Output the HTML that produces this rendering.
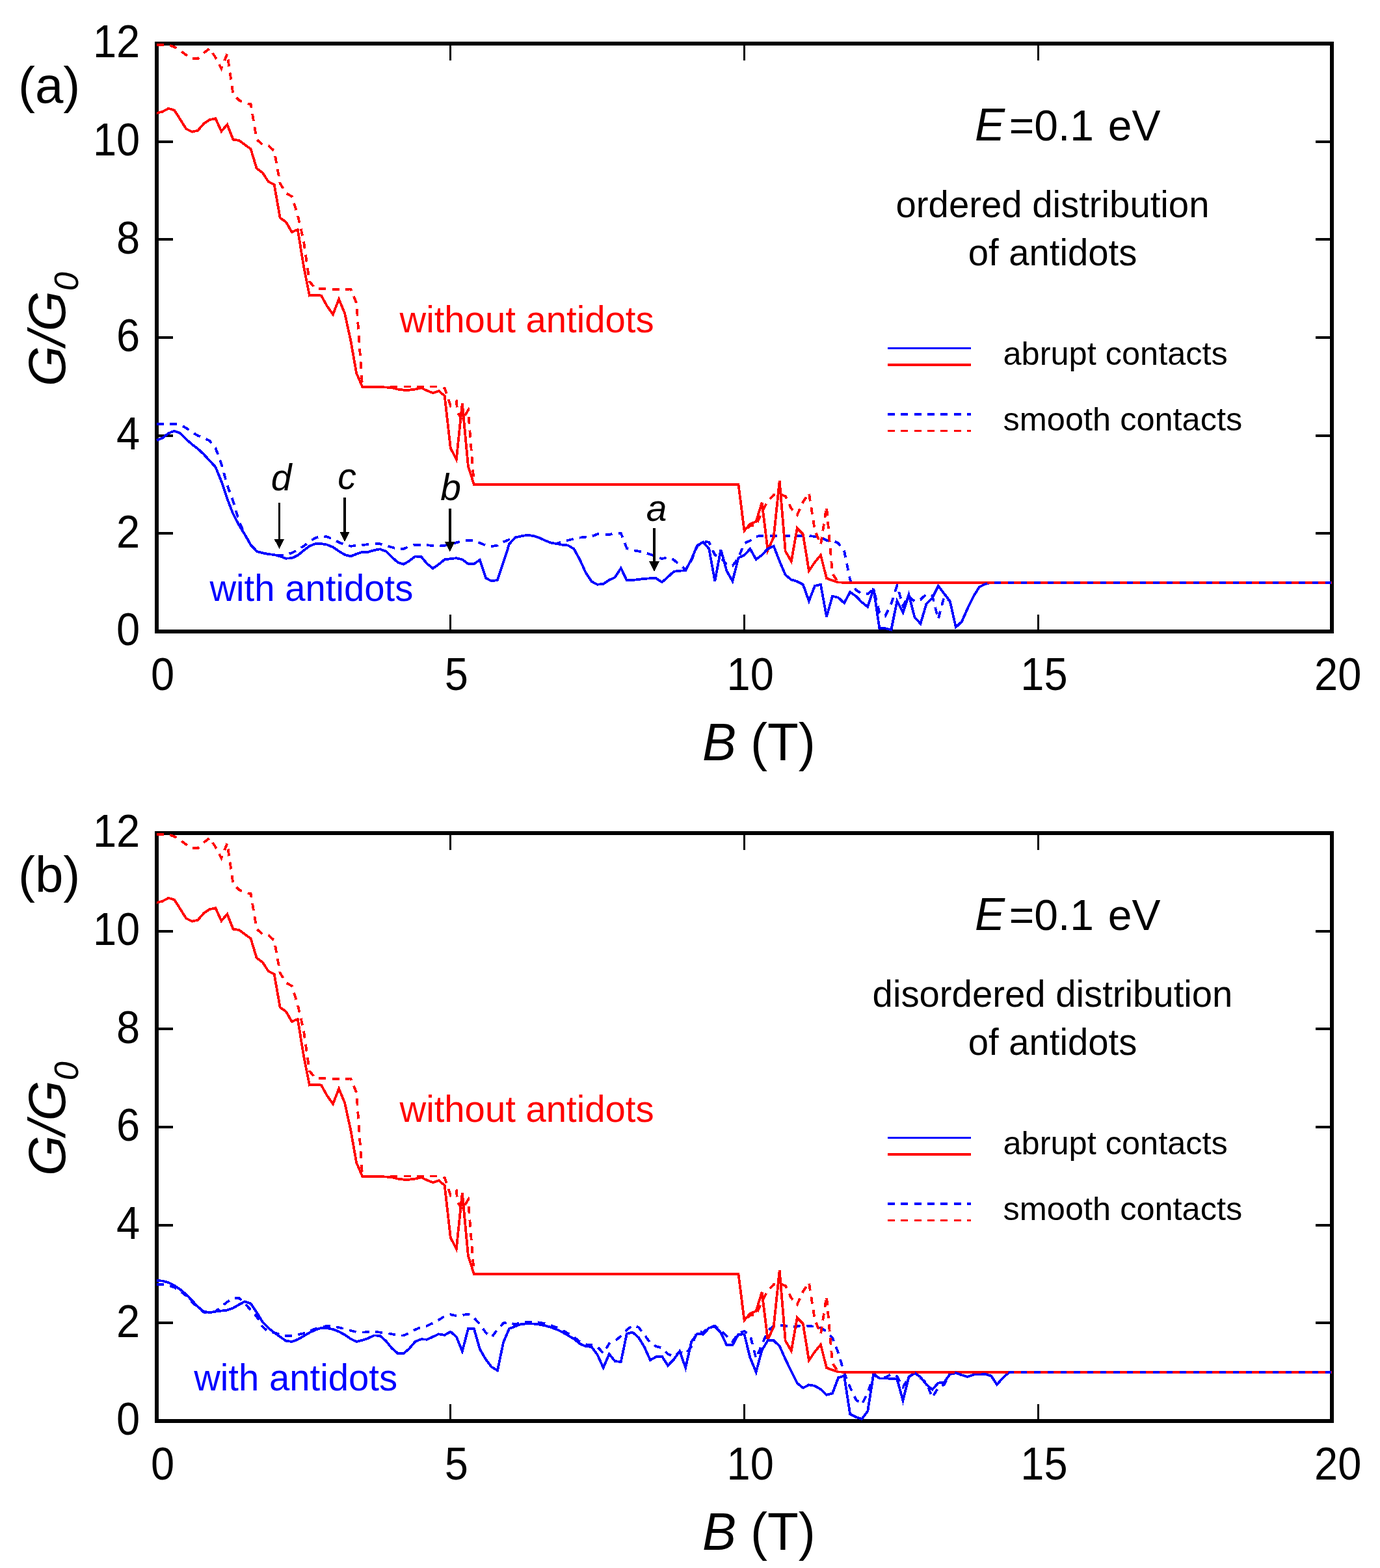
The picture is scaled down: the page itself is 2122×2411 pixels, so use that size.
<!DOCTYPE html><html><head><meta charset="utf-8"><title>G/G0 vs B</title><style>html,body{margin:0;padding:0;background:#fff}svg{display:block}</style></head><body>
<svg width="2122" height="2411" viewBox="0 0 2122 2411" font-family="Liberation Sans, Arial, Helvetica, sans-serif">
<style>path,rect{shape-rendering:crispEdges}</style>
<rect width="2122" height="2411" fill="#fff"/>
<g><path d="M241,820.3H266M2023,820.3H2048" stroke="#000" stroke-width="3.8"/>
<path d="M241,669.7H266M2023,669.7H2048" stroke="#000" stroke-width="3.8"/>
<path d="M241,519.0H266M2023,519.0H2048" stroke="#000" stroke-width="3.8"/>
<path d="M241,368.3H266M2023,368.3H2048" stroke="#000" stroke-width="3.8"/>
<path d="M241,217.7H266M2023,217.7H2048" stroke="#000" stroke-width="3.8"/>
<path d="M692.8,971V945M692.8,67V93" stroke="#000" stroke-width="3"/>
<path d="M1144.5,971V945M1144.5,67V93" stroke="#000" stroke-width="3"/>
<path d="M1596.2,971V945M1596.2,67V93" stroke="#000" stroke-width="3"/>
<text transform="translate(215.20,992.20) scale(0.97,1.054)" font-size="67" text-anchor="end">0</text>
<text transform="translate(215.20,841.53) scale(0.97,1.054)" font-size="67" text-anchor="end">2</text>
<text transform="translate(215.20,690.87) scale(0.97,1.054)" font-size="67" text-anchor="end">4</text>
<text transform="translate(215.20,540.20) scale(0.97,1.054)" font-size="67" text-anchor="end">6</text>
<text transform="translate(215.20,389.53) scale(0.97,1.054)" font-size="67" text-anchor="end">8</text>
<text transform="translate(215.20,238.87) scale(0.97,1.054)" font-size="67" text-anchor="end">10</text>
<text transform="translate(215.20,88.20) scale(0.97,1.054)" font-size="67" text-anchor="end">12</text>
<text transform="translate(250.20,1060.50) scale(0.97,1.054)" font-size="67" text-anchor="middle">0</text>
<text transform="translate(701.95,1060.50) scale(0.97,1.054)" font-size="67" text-anchor="middle">5</text>
<text transform="translate(1153.70,1060.50) scale(0.97,1.054)" font-size="67" text-anchor="middle">10</text>
<text transform="translate(1605.45,1060.50) scale(0.97,1.054)" font-size="67" text-anchor="middle">15</text>
<text transform="translate(2057.20,1060.50) scale(0.97,1.054)" font-size="67" text-anchor="middle">20</text>
<text transform="translate(1080.00,1169.00) scale(0.99,1.03)" font-size="79"><tspan font-style="italic">B</tspan> (T)</text>
<text transform="translate(100,594) rotate(-90) scale(1.0,1.0)" font-size="80" font-style="italic">G/G<tspan font-size="52" dy="19.5">0</tspan></text>
<rect x="241" y="67" width="1807" height="904" fill="none" stroke="#000" stroke-width="6"/>
<path d="M241.0,652.0 L250.0,652.0 L259.1,651.8 L268.1,651.8 L277.1,653.2 L286.2,658.1 L295.2,664.3 L304.2,669.8 L313.3,673.4 L322.3,677.7 L331.4,688.7 L340.4,713.2 L349.4,746.2 L358.5,770.7 L367.5,801.3 L376.5,822.0 L385.6,836.7 L394.6,847.8 L403.6,850.2 L412.7,852.0 L421.7,853.0 L430.7,854.0 L439.8,852.9 L448.8,850.2 L457.8,845.5 L466.9,839.7 L475.9,832.8 L484.9,827.0 L494.0,824.4 L503.0,825.4 L512.0,829.1 L521.1,833.9 L530.1,837.6 L539.2,839.7 L548.2,839.1 L557.2,838.1 L566.3,837.0 L575.3,836.3 L584.3,836.3 L593.4,839.1 L602.4,841.5 L611.4,843.9 L620.5,843.9 L629.5,840.2 L638.5,837.6 L647.6,837.6 L656.6,838.1 L665.6,839.1 L674.7,839.5 L683.7,839.1 L692.8,836.0 L701.8,834.4 L710.8,831.8 L719.9,830.7 L728.9,831.5 L737.9,834.9 L747.0,838.6 L756.0,840.0 L765.0,838.6 L774.1,833.3 L783.1,829.6 L792.1,826.5 L801.2,824.4 L810.2,822.8 L819.2,823.8 L828.3,826.5 L837.3,830.7 L846.3,834.4 L855.4,836.0 L864.4,833.3 L873.5,830.7 L882.5,828.6 L891.5,826.7 L900.6,825.6 L909.6,824.9 L918.6,821.2 L927.7,821.7 L936.7,822.2 L945.7,819.6 L954.8,819.9 L963.8,843.0 L972.8,846.0 L981.9,847.6 L990.9,849.7 L999.9,852.4 L1009.0,855.5 L1018.0,859.2 L1027.0,856.8 L1036.1,860.8 L1045.1,868.8 L1054.2,875.6 L1063.2,862.0 L1072.2,840.0 L1081.3,831.8 L1090.3,833.9 L1099.3,853.4 L1108.4,858.0 L1117.4,868.2 L1126.4,870.0 L1135.5,857.7 L1144.5,835.5 L1153.5,831.2 L1162.6,824.9 L1171.6,823.8 L1180.6,823.6 L1189.7,823.6 L1198.7,823.6 L1207.7,823.6 L1216.8,823.6 L1225.8,823.6 L1234.8,823.8 L1243.9,824.0 L1252.9,824.9 L1262.0,826.4 L1271.0,830.7 L1280.0,830.7 L1289.1,835.4 L1298.1,847.0 L1307.1,891.4 L1316.2,907.2 L1325.2,913.0 L1334.2,913.4 L1343.3,906.0 L1352.3,942.0 L1361.3,947.2 L1370.4,928.2 L1379.4,900.2 L1388.4,931.4 L1397.5,916.6 L1406.5,925.0 L1415.5,921.9 L1424.6,913.4 L1433.6,916.0 L1442.7,952.0 L1451.7,918.0 L1460.7,924.2 L1469.8,964.4 L1478.8,956.0 L1487.8,935.7 L1496.9,917.0 L1505.9,902.5 L1514.9,898.0 L1524.0,895.7 L2048.0,895.7" fill="none" stroke="#0000ff" stroke-width="3.8" stroke-linejoin="miter" stroke-miterlimit="4" stroke-dasharray="11,9.35"/>
<path d="M241.0,173.9 L250.0,171.7 L259.1,166.8 L268.1,169.4 L277.1,183.5 L286.2,198.1 L295.2,202.7 L304.2,200.7 L313.3,190.2 L322.3,184.2 L331.4,182.2 L340.4,202.0 L349.4,191.5 L358.5,214.6 L367.5,215.9 L376.5,222.5 L385.6,229.1 L394.6,258.9 L403.6,265.5 L412.7,279.3 L421.7,284.0 L430.7,335.0 L439.8,341.4 L448.8,356.8 L457.8,353.1 L466.9,409.0 L475.9,454.5 L484.9,453.6 L494.0,454.5 L503.0,470.8 L512.0,483.4 L521.1,460.0 L530.1,481.6 L539.2,523.3 L548.2,574.0 L557.2,594.7 L566.3,595.0 L575.3,595.0 L584.3,595.3 L593.4,595.5 L602.4,596.0 L611.4,598.5 L620.5,599.6 L629.5,599.6 L638.5,598.5 L647.6,596.4 L656.6,600.6 L665.6,604.3 L674.7,601.2 L683.7,608.6 L692.8,689.0 L701.8,706.4 L710.8,620.0 L719.9,717.0 L728.9,745.0 L737.9,745.0 L747.0,745.0 L756.0,745.0 L765.0,745.0 L774.1,745.0 L783.1,745.0 L792.1,745.0 L801.2,745.0 L810.2,745.0 L819.2,745.0 L828.3,745.0 L837.3,745.0 L846.3,745.0 L855.4,745.0 L864.4,745.0 L873.5,745.0 L882.5,745.0 L891.5,745.0 L900.6,745.0 L909.6,745.0 L918.6,745.0 L927.7,745.0 L936.7,745.0 L945.7,745.0 L954.8,745.0 L963.8,745.0 L972.8,745.0 L981.9,745.0 L990.9,745.0 L999.9,745.0 L1009.0,745.0 L1018.0,745.0 L1027.0,745.0 L1036.1,745.0 L1045.1,745.0 L1054.2,745.0 L1063.2,745.0 L1072.2,745.0 L1081.3,745.0 L1090.3,745.0 L1099.3,745.0 L1108.4,745.0 L1117.4,745.0 L1126.4,745.0 L1135.5,745.0 L1144.5,816.0 L1153.5,805.7 L1162.6,802.0 L1171.6,772.9 L1180.6,846.0 L1189.7,826.0 L1198.7,739.0 L1207.7,847.5 L1216.8,863.2 L1225.8,812.0 L1234.8,821.5 L1243.9,877.8 L1252.9,864.5 L1262.0,853.5 L1271.0,889.2 L1280.0,892.6 L1289.1,895.4 L1298.1,895.7 L2048.0,895.7" fill="none" stroke="#ff0000" stroke-width="3.8" stroke-linejoin="miter" stroke-miterlimit="4"/>
<path d="M241.0,677.1 L250.0,673.4 L259.1,666.1 L268.1,662.8 L277.1,666.1 L286.2,675.3 L295.2,683.2 L304.2,690.0 L313.3,698.5 L322.3,708.3 L331.4,718.1 L340.4,740.1 L349.4,767.0 L358.5,790.3 L367.5,807.4 L376.5,822.0 L385.6,838.0 L394.6,847.8 L403.6,850.2 L412.7,852.0 L421.7,853.0 L430.7,855.5 L439.8,858.7 L448.8,858.2 L457.8,853.9 L466.9,846.5 L475.9,839.7 L484.9,836.0 L494.0,836.0 L503.0,837.6 L512.0,841.3 L521.1,847.6 L530.1,852.9 L539.2,855.5 L548.2,851.8 L557.2,848.7 L566.3,848.7 L575.3,846.0 L584.3,844.4 L593.4,847.6 L602.4,856.5 L611.4,864.5 L620.5,867.7 L629.5,862.4 L638.5,855.5 L647.6,856.0 L656.6,866.6 L665.6,874.0 L674.7,867.7 L683.7,860.3 L692.8,859.2 L701.8,858.2 L710.8,860.3 L719.9,867.1 L728.9,867.1 L737.9,860.8 L747.0,888.8 L756.0,893.5 L765.0,892.0 L774.1,864.5 L783.1,836.5 L792.1,826.5 L801.2,824.4 L810.2,822.8 L819.2,823.8 L828.3,826.5 L837.3,830.7 L846.3,834.4 L855.4,836.0 L864.4,837.6 L873.5,838.6 L882.5,843.9 L891.5,860.3 L900.6,880.3 L909.6,894.1 L918.6,898.8 L927.7,897.8 L936.7,892.0 L945.7,887.7 L954.8,873.5 L963.8,892.5 L972.8,892.0 L981.9,890.9 L990.9,889.9 L999.9,889.3 L1009.0,889.3 L1018.0,895.2 L1027.0,887.2 L1036.1,878.8 L1045.1,877.7 L1054.2,877.2 L1063.2,859.8 L1072.2,838.7 L1081.3,833.4 L1090.3,843.9 L1099.3,893.6 L1108.4,845.0 L1117.4,877.7 L1126.4,893.6 L1135.5,857.7 L1144.5,853.7 L1153.5,843.9 L1162.6,860.2 L1171.6,853.4 L1180.6,843.9 L1189.7,839.6 L1198.7,862.9 L1207.7,884.0 L1216.8,891.4 L1225.8,894.0 L1234.8,898.8 L1243.9,924.1 L1252.9,900.9 L1262.0,898.8 L1271.0,948.4 L1280.0,916.7 L1289.1,918.9 L1298.1,927.3 L1307.1,910.4 L1316.2,916.7 L1325.2,926.0 L1334.2,933.0 L1343.3,905.0 L1352.3,966.2 L1361.3,966.2 L1370.4,968.4 L1379.4,924.0 L1388.4,942.0 L1397.5,914.5 L1406.5,949.4 L1415.5,958.9 L1424.6,928.1 L1433.6,919.7 L1442.7,900.9 L1451.7,912.7 L1460.7,924.2 L1469.8,964.4 L1478.8,956.0 L1487.8,935.7 L1496.9,917.0 L1505.9,902.5 L1514.9,898.0 L1524.0,895.7 L2048.0,895.7" fill="none" stroke="#0000ff" stroke-width="3.8" stroke-linejoin="miter" stroke-miterlimit="4"/>
<path d="M241.0,69.0 L250.0,69.0 L259.1,69.0 L268.1,72.2 L277.1,77.6 L286.2,84.4 L295.2,90.1 L304.2,90.4 L313.3,81.5 L322.3,74.5 L331.4,88.4 L340.4,105.6 L349.4,82.7 L358.5,145.5 L367.5,154.0 L376.5,159.0 L385.6,160.0 L394.6,214.0 L403.6,222.8 L412.7,224.0 L421.7,232.0 L430.7,282.0 L439.8,297.0 L448.8,302.0 L457.8,331.0 L466.9,370.0 L475.9,433.0 L484.9,443.6 L494.0,444.0 L503.0,444.5 L512.0,445.0 L521.1,445.4 L530.1,445.0 L539.2,444.5 L548.2,466.0 L557.2,594.5 L566.3,594.5 L575.3,594.5 L584.3,594.5 L593.4,594.5 L602.4,594.5 L611.4,594.5 L620.5,594.5 L629.5,594.5 L638.5,594.5 L647.6,594.5 L656.6,594.5 L665.6,594.5 L674.7,594.5 L683.7,597.0 L692.8,624.0 L701.8,617.0 L703.5,634.0 L710.8,646.0 L719.9,630.7 L728.9,745.0 L737.9,745.0 L747.0,745.0 L756.0,745.0 L765.0,745.0 L774.1,745.0 L783.1,745.0 L792.1,745.0 L801.2,745.0 L810.2,745.0 L819.2,745.0 L828.3,745.0 L837.3,745.0 L846.3,745.0 L855.4,745.0 L864.4,745.0 L873.5,745.0 L882.5,745.0 L891.5,745.0 L900.6,745.0 L909.6,745.0 L918.6,745.0 L927.7,745.0 L936.7,745.0 L945.7,745.0 L954.8,745.0 L963.8,745.0 L972.8,745.0 L981.9,745.0 L990.9,745.0 L999.9,745.0 L1009.0,745.0 L1018.0,745.0 L1027.0,745.0 L1036.1,745.0 L1045.1,745.0 L1054.2,745.0 L1063.2,745.0 L1072.2,745.0 L1081.3,745.0 L1090.3,745.0 L1099.3,745.0 L1108.4,745.0 L1117.4,745.0 L1126.4,745.0 L1135.5,745.0 L1144.5,817.0 L1153.5,808.0 L1162.6,808.0 L1171.6,787.0 L1180.6,770.5 L1189.7,761.0 L1198.7,759.7 L1207.7,763.0 L1216.8,782.0 L1225.8,791.8 L1234.8,772.0 L1243.9,758.0 L1252.9,815.0 L1262.0,837.5 L1271.0,779.0 L1280.0,882.0 L1289.1,895.5 L1298.1,895.7 L2048.0,895.7" fill="none" stroke="#ff0000" stroke-width="3.8" stroke-linejoin="miter" stroke-miterlimit="4" stroke-dasharray="11,9.35"/>
<path d="M1365,535.5H1493" stroke="#0000ff" stroke-width="3.8"/>
<path d="M1365,560.8H1493" stroke="#ff0000" stroke-width="3.8"/>
<path d="M1365,637H1493" stroke="#0000ff" stroke-width="3.8" stroke-dasharray="11,9.35"/>
<path d="M1365,662.5H1493" stroke="#ff0000" stroke-width="3.8" stroke-dasharray="11,9.35"/>
<text transform="translate(1542.50,561.00)" font-size="50.5">abrupt contacts</text>
<text transform="translate(1542.50,662.00)" font-size="50.5">smooth contacts</text>
<text transform="translate(28.00,158.00)" font-size="78">(a)</text>
<text transform="translate(1499.00,216.00) scale(1,1.03)" font-size="69" font-style="italic">E</text>
<text transform="translate(1551.70,216.00) scale(1,1.02)" font-size="66">=0.1<tspan dx="3.5"> eV</tspan></text>
<text transform="translate(1618.50,333.60) scale(1,1.025)" font-size="56.3" text-anchor="middle">ordered distribution</text>
<text transform="translate(1618.50,408.30) scale(1,1.025)" font-size="56.3" text-anchor="middle">of antidots</text>
<text transform="translate(614.50,511.20) scale(1,1.025)" font-size="56.3" fill="#ff0000">without antidots</text>
<text transform="translate(322.40,924.40) scale(1,1.025)" font-size="56.3" fill="#0000ff">with antidots</text>
<path d="M429.5,772.9V829.9" stroke="#000" stroke-width="3.6"/><path d="M421.7,828.9L437.3,828.9L429.5,844.4Z" fill="#000"/>
<text transform="translate(416.80,753.90)" font-size="57" font-style="italic">d</text>
<path d="M530,765V818.5" stroke="#000" stroke-width="3.6"/><path d="M522.2,817.5L537.8,817.5L530,833Z" fill="#000"/>
<text transform="translate(519.30,752.00)" font-size="57" font-style="italic">c</text>
<path d="M691.8,781.8V834.1" stroke="#000" stroke-width="3.6"/><path d="M684.0,833.1L699.5999999999999,833.1L691.8,848.6Z" fill="#000"/>
<text transform="translate(677.20,769.40)" font-size="57" font-style="italic">b</text>
<path d="M1006,812V864.2" stroke="#000" stroke-width="3.6"/><path d="M998.2,863.2L1013.8,863.2L1006,878.7Z" fill="#000"/>
<text transform="translate(993.80,800.50)" font-size="57" font-style="italic">a</text>
</g>
<g transform="translate(0,1214)"><path d="M241,820.3H266M2023,820.3H2048" stroke="#000" stroke-width="3.8"/>
<path d="M241,669.7H266M2023,669.7H2048" stroke="#000" stroke-width="3.8"/>
<path d="M241,519.0H266M2023,519.0H2048" stroke="#000" stroke-width="3.8"/>
<path d="M241,368.3H266M2023,368.3H2048" stroke="#000" stroke-width="3.8"/>
<path d="M241,217.7H266M2023,217.7H2048" stroke="#000" stroke-width="3.8"/>
<path d="M692.8,971V945M692.8,67V93" stroke="#000" stroke-width="3"/>
<path d="M1144.5,971V945M1144.5,67V93" stroke="#000" stroke-width="3"/>
<path d="M1596.2,971V945M1596.2,67V93" stroke="#000" stroke-width="3"/>
<text transform="translate(215.20,992.20) scale(0.97,1.054)" font-size="67" text-anchor="end">0</text>
<text transform="translate(215.20,841.53) scale(0.97,1.054)" font-size="67" text-anchor="end">2</text>
<text transform="translate(215.20,690.87) scale(0.97,1.054)" font-size="67" text-anchor="end">4</text>
<text transform="translate(215.20,540.20) scale(0.97,1.054)" font-size="67" text-anchor="end">6</text>
<text transform="translate(215.20,389.53) scale(0.97,1.054)" font-size="67" text-anchor="end">8</text>
<text transform="translate(215.20,238.87) scale(0.97,1.054)" font-size="67" text-anchor="end">10</text>
<text transform="translate(215.20,88.20) scale(0.97,1.054)" font-size="67" text-anchor="end">12</text>
<text transform="translate(250.20,1060.50) scale(0.97,1.054)" font-size="67" text-anchor="middle">0</text>
<text transform="translate(701.95,1060.50) scale(0.97,1.054)" font-size="67" text-anchor="middle">5</text>
<text transform="translate(1153.70,1060.50) scale(0.97,1.054)" font-size="67" text-anchor="middle">10</text>
<text transform="translate(1605.45,1060.50) scale(0.97,1.054)" font-size="67" text-anchor="middle">15</text>
<text transform="translate(2057.20,1060.50) scale(0.97,1.054)" font-size="67" text-anchor="middle">20</text>
<text transform="translate(1080.00,1169.00) scale(0.99,1.03)" font-size="79"><tspan font-style="italic">B</tspan> (T)</text>
<text transform="translate(100,594) rotate(-90) scale(1.0,1.0)" font-size="80" font-style="italic">G/G<tspan font-size="52" dy="19.5">0</tspan></text>
<rect x="241" y="67" width="1807" height="904" fill="none" stroke="#000" stroke-width="6"/>
<path d="M241.0,761.4 L250.0,760.9 L259.1,762.5 L268.1,765.6 L277.1,771.0 L286.2,778.3 L295.2,787.8 L304.2,796.3 L313.3,803.7 L322.3,805.2 L331.4,802.6 L340.4,795.2 L349.4,787.8 L358.5,782.5 L367.5,782.0 L376.5,790.0 L385.6,800.5 L394.6,810.0 L403.6,825.8 L412.7,833.8 L421.7,835.0 L430.7,838.3 L439.8,839.9 L448.8,840.4 L457.8,838.3 L466.9,836.2 L475.9,832.5 L484.9,829.3 L494.0,826.2 L503.0,825.1 L512.0,825.6 L521.1,827.2 L530.1,829.3 L539.2,832.0 L548.2,834.1 L557.2,834.6 L566.3,834.1 L575.3,833.9 L584.3,834.6 L593.4,835.7 L602.4,837.2 L611.4,839.4 L620.5,839.4 L629.5,835.7 L638.5,830.4 L647.6,826.7 L656.6,824.6 L665.6,820.4 L674.7,815.6 L683.7,809.8 L692.8,807.2 L701.8,809.3 L710.8,808.2 L719.9,806.6 L728.9,812.4 L737.9,822.0 L747.0,835.1 L756.0,842.0 L765.0,830.4 L774.1,820.4 L783.1,819.3 L792.1,822.6 L801.2,818.9 L810.2,818.4 L819.2,818.4 L828.3,819.5 L837.3,821.1 L846.3,823.7 L855.4,826.9 L864.4,831.1 L873.5,836.4 L882.5,841.7 L891.5,849.0 L900.6,853.3 L909.6,854.2 L918.6,856.8 L927.7,866.8 L936.7,852.0 L945.7,847.8 L954.8,840.4 L963.8,830.9 L972.8,824.1 L981.9,826.7 L990.9,838.3 L999.9,851.0 L1009.0,856.3 L1018.0,858.4 L1027.0,867.9 L1036.1,872.1 L1045.1,864.7 L1054.2,867.9 L1063.2,856.3 L1072.2,833.0 L1081.3,835.0 L1090.3,826.7 L1099.3,824.6 L1108.4,832.0 L1117.4,840.4 L1126.4,848.9 L1135.5,836.2 L1144.5,833.0 L1153.5,838.8 L1162.6,874.7 L1171.6,853.6 L1180.6,832.5 L1189.7,824.6 L1198.7,823.5 L1207.7,824.6 L1216.8,826.7 L1225.8,825.6 L1234.8,823.5 L1243.9,825.1 L1252.9,825.6 L1262.0,827.7 L1271.0,833.0 L1280.0,843.0 L1289.1,866.3 L1298.1,896.9 L1307.1,919.1 L1316.2,938.1 L1325.2,945.5 L1334.2,927.8 L1343.3,901.0 L1352.3,903.5 L1361.3,904.2 L1370.4,899.0 L1379.4,902.3 L1388.4,918.9 L1397.5,903.5 L1406.5,897.1 L1415.5,905.0 L1424.6,912.5 L1433.6,935.0 L1442.7,919.5 L1451.7,915.0 L1460.7,898.4 L1469.8,897.1 L1478.8,900.3 L1487.8,902.9 L1496.9,899.7 L1505.9,899.0 L1514.9,899.0 L1524.0,901.6 L1533.0,915.0 L1542.0,904.8 L1551.1,896.5 L1560.1,895.7 L2048.0,895.7" fill="none" stroke="#0000ff" stroke-width="3.8" stroke-linejoin="miter" stroke-miterlimit="4" stroke-dasharray="11,9.35"/>
<path d="M241.0,173.9 L250.0,171.7 L259.1,166.8 L268.1,169.4 L277.1,183.5 L286.2,198.1 L295.2,202.7 L304.2,200.7 L313.3,190.2 L322.3,184.2 L331.4,182.2 L340.4,202.0 L349.4,191.5 L358.5,214.6 L367.5,215.9 L376.5,222.5 L385.6,229.1 L394.6,258.9 L403.6,265.5 L412.7,279.3 L421.7,284.0 L430.7,335.0 L439.8,341.4 L448.8,356.8 L457.8,353.1 L466.9,409.0 L475.9,454.5 L484.9,453.6 L494.0,454.5 L503.0,470.8 L512.0,483.4 L521.1,460.0 L530.1,481.6 L539.2,523.3 L548.2,574.0 L557.2,594.7 L566.3,595.0 L575.3,595.0 L584.3,595.3 L593.4,595.5 L602.4,596.0 L611.4,598.5 L620.5,599.6 L629.5,599.6 L638.5,598.5 L647.6,596.4 L656.6,600.6 L665.6,604.3 L674.7,601.2 L683.7,608.6 L692.8,689.0 L701.8,706.4 L710.8,620.0 L719.9,717.0 L728.9,745.0 L737.9,745.0 L747.0,745.0 L756.0,745.0 L765.0,745.0 L774.1,745.0 L783.1,745.0 L792.1,745.0 L801.2,745.0 L810.2,745.0 L819.2,745.0 L828.3,745.0 L837.3,745.0 L846.3,745.0 L855.4,745.0 L864.4,745.0 L873.5,745.0 L882.5,745.0 L891.5,745.0 L900.6,745.0 L909.6,745.0 L918.6,745.0 L927.7,745.0 L936.7,745.0 L945.7,745.0 L954.8,745.0 L963.8,745.0 L972.8,745.0 L981.9,745.0 L990.9,745.0 L999.9,745.0 L1009.0,745.0 L1018.0,745.0 L1027.0,745.0 L1036.1,745.0 L1045.1,745.0 L1054.2,745.0 L1063.2,745.0 L1072.2,745.0 L1081.3,745.0 L1090.3,745.0 L1099.3,745.0 L1108.4,745.0 L1117.4,745.0 L1126.4,745.0 L1135.5,745.0 L1144.5,816.0 L1153.5,805.7 L1162.6,802.0 L1171.6,772.9 L1180.6,846.0 L1189.7,826.0 L1198.7,739.0 L1207.7,847.5 L1216.8,863.2 L1225.8,812.0 L1234.8,821.5 L1243.9,877.8 L1252.9,864.5 L1262.0,853.5 L1271.0,889.2 L1280.0,892.6 L1289.1,895.4 L1298.1,895.7 L2048.0,895.7" fill="none" stroke="#ff0000" stroke-width="3.8" stroke-linejoin="miter" stroke-miterlimit="4"/>
<path d="M241.0,755.1 L250.0,755.6 L259.1,758.2 L268.1,762.5 L277.1,768.8 L286.2,776.2 L295.2,785.7 L304.2,795.2 L313.3,802.6 L322.3,804.2 L331.4,802.6 L340.4,801.6 L349.4,800.5 L358.5,797.3 L367.5,792.0 L376.5,787.3 L385.6,790.5 L394.6,803.7 L403.6,818.5 L412.7,828.0 L421.7,835.2 L430.7,841.5 L439.8,847.8 L448.8,848.9 L457.8,845.7 L466.9,840.4 L475.9,835.1 L484.9,830.9 L494.0,827.8 L503.0,828.3 L512.0,829.9 L521.1,833.6 L530.1,838.3 L539.2,844.7 L548.2,848.9 L557.2,846.8 L566.3,843.6 L575.3,839.4 L584.3,839.9 L593.4,847.8 L602.4,858.9 L611.4,866.8 L620.5,867.4 L629.5,859.4 L638.5,848.9 L647.6,845.2 L656.6,845.7 L665.6,841.5 L674.7,837.3 L683.7,838.8 L692.8,833.6 L701.8,841.5 L710.8,863.7 L719.9,829.3 L728.9,829.3 L737.9,860.5 L747.0,876.3 L756.0,888.0 L765.0,893.2 L774.1,849.9 L783.1,828.8 L792.1,825.6 L801.2,821.9 L810.2,821.4 L819.2,821.4 L828.3,822.5 L837.3,824.1 L846.3,826.7 L855.4,829.9 L864.4,834.1 L873.5,839.4 L882.5,844.7 L891.5,852.0 L900.6,856.3 L909.6,856.8 L918.6,868.9 L927.7,889.0 L936.7,867.9 L945.7,879.0 L954.8,880.0 L963.8,836.7 L972.8,834.6 L981.9,842.5 L990.9,857.3 L999.9,877.4 L1009.0,872.1 L1018.0,871.6 L1027.0,885.8 L1036.1,876.3 L1045.1,863.7 L1054.2,889.0 L1063.2,848.9 L1072.2,836.7 L1081.3,837.8 L1090.3,827.8 L1099.3,825.6 L1108.4,835.1 L1117.4,854.2 L1126.4,854.2 L1135.5,837.8 L1144.5,837.5 L1153.5,873.7 L1162.6,895.8 L1171.6,862.0 L1180.6,847.3 L1189.7,847.3 L1198.7,855.7 L1207.7,875.8 L1216.8,894.8 L1225.8,912.7 L1234.8,920.1 L1243.9,915.4 L1252.9,917.0 L1262.0,922.2 L1271.0,930.7 L1280.0,928.6 L1289.1,904.3 L1298.1,901.5 L1307.1,960.3 L1316.2,965.0 L1325.2,967.8 L1334.2,956.0 L1343.3,898.4 L1352.3,905.4 L1361.3,905.4 L1370.4,905.8 L1379.4,906.7 L1388.4,939.3 L1397.5,902.9 L1406.5,897.1 L1415.5,903.5 L1424.6,915.0 L1433.6,922.7 L1442.7,912.5 L1451.7,911.8 L1460.7,899.0 L1469.8,897.1 L1478.8,900.3 L1487.8,902.9 L1496.9,899.7 L1505.9,899.0 L1514.9,899.0 L1524.0,901.6 L1533.0,915.0 L1542.0,904.8 L1551.1,896.5 L1560.1,895.7 L2048.0,895.7" fill="none" stroke="#0000ff" stroke-width="3.8" stroke-linejoin="miter" stroke-miterlimit="4"/>
<path d="M241.0,69.0 L250.0,69.0 L259.1,69.0 L268.1,72.2 L277.1,77.6 L286.2,84.4 L295.2,90.1 L304.2,90.4 L313.3,81.5 L322.3,74.5 L331.4,88.4 L340.4,105.6 L349.4,82.7 L358.5,145.5 L367.5,154.0 L376.5,159.0 L385.6,160.0 L394.6,214.0 L403.6,222.8 L412.7,224.0 L421.7,232.0 L430.7,282.0 L439.8,297.0 L448.8,302.0 L457.8,331.0 L466.9,370.0 L475.9,433.0 L484.9,443.6 L494.0,444.0 L503.0,444.5 L512.0,445.0 L521.1,445.4 L530.1,445.0 L539.2,444.5 L548.2,466.0 L557.2,594.5 L566.3,594.5 L575.3,594.5 L584.3,594.5 L593.4,594.5 L602.4,594.5 L611.4,594.5 L620.5,594.5 L629.5,594.5 L638.5,594.5 L647.6,594.5 L656.6,594.5 L665.6,594.5 L674.7,594.5 L683.7,597.0 L692.8,624.0 L701.8,617.0 L703.5,634.0 L710.8,646.0 L719.9,630.7 L728.9,745.0 L737.9,745.0 L747.0,745.0 L756.0,745.0 L765.0,745.0 L774.1,745.0 L783.1,745.0 L792.1,745.0 L801.2,745.0 L810.2,745.0 L819.2,745.0 L828.3,745.0 L837.3,745.0 L846.3,745.0 L855.4,745.0 L864.4,745.0 L873.5,745.0 L882.5,745.0 L891.5,745.0 L900.6,745.0 L909.6,745.0 L918.6,745.0 L927.7,745.0 L936.7,745.0 L945.7,745.0 L954.8,745.0 L963.8,745.0 L972.8,745.0 L981.9,745.0 L990.9,745.0 L999.9,745.0 L1009.0,745.0 L1018.0,745.0 L1027.0,745.0 L1036.1,745.0 L1045.1,745.0 L1054.2,745.0 L1063.2,745.0 L1072.2,745.0 L1081.3,745.0 L1090.3,745.0 L1099.3,745.0 L1108.4,745.0 L1117.4,745.0 L1126.4,745.0 L1135.5,745.0 L1144.5,817.0 L1153.5,808.0 L1162.6,808.0 L1171.6,787.0 L1180.6,770.5 L1189.7,761.0 L1198.7,759.7 L1207.7,763.0 L1216.8,782.0 L1225.8,791.8 L1234.8,772.0 L1243.9,758.0 L1252.9,815.0 L1262.0,837.5 L1271.0,779.0 L1280.0,882.0 L1289.1,895.5 L1298.1,895.7 L2048.0,895.7" fill="none" stroke="#ff0000" stroke-width="3.8" stroke-linejoin="miter" stroke-miterlimit="4" stroke-dasharray="11,9.35"/>
<path d="M1365,535.5H1493" stroke="#0000ff" stroke-width="3.8"/>
<path d="M1365,560.8H1493" stroke="#ff0000" stroke-width="3.8"/>
<path d="M1365,637H1493" stroke="#0000ff" stroke-width="3.8" stroke-dasharray="11,9.35"/>
<path d="M1365,662.5H1493" stroke="#ff0000" stroke-width="3.8" stroke-dasharray="11,9.35"/>
<text transform="translate(1542.50,561.00)" font-size="50.5">abrupt contacts</text>
<text transform="translate(1542.50,662.00)" font-size="50.5">smooth contacts</text>
<text transform="translate(28.00,158.00)" font-size="78">(b)</text>
<text transform="translate(1499.00,216.00) scale(1,1.03)" font-size="69" font-style="italic">E</text>
<text transform="translate(1551.70,216.00) scale(1,1.02)" font-size="66">=0.1<tspan dx="3.5"> eV</tspan></text>
<text transform="translate(1618.50,333.60) scale(1,1.025)" font-size="56.3" text-anchor="middle">disordered distribution</text>
<text transform="translate(1618.50,408.30) scale(1,1.025)" font-size="56.3" text-anchor="middle">of antidots</text>
<text transform="translate(614.50,511.20) scale(1,1.025)" font-size="56.3" fill="#ff0000">without antidots</text>
<text transform="translate(298.20,924.40) scale(1,1.025)" font-size="56.3" fill="#0000ff">with antidots</text></g>
</svg></body></html>
